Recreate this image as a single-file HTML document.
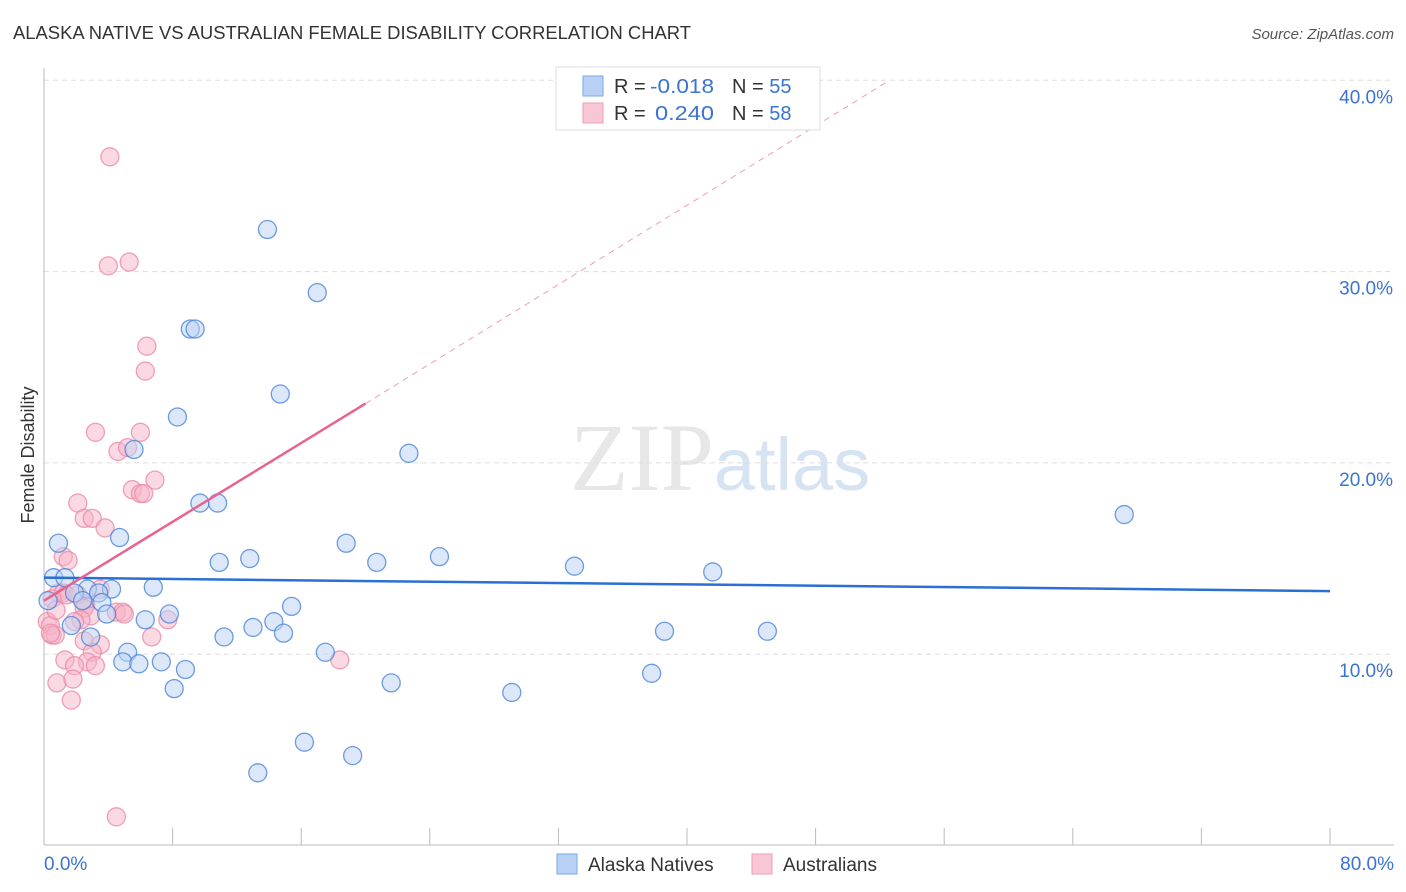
<!DOCTYPE html>
<html><head><meta charset="utf-8">
<style>
body{margin:0;background:#fff;font-family:"Liberation Sans",sans-serif;}
svg{display:block}
</style></head>
<body>
<svg id="chart" width="1406" height="892" xmlns="http://www.w3.org/2000/svg">
<text x="13" y="39" font-size="18" fill="#333" textLength="678" lengthAdjust="spacingAndGlyphs">ALASKA NATIVE VS AUSTRALIAN FEMALE DISABILITY CORRELATION CHART</text>
<text x="1394" y="39" font-size="15" fill="#555" font-style="italic" text-anchor="end">Source: ZipAtlas.com</text>
<text x="720" y="490" font-size="96" text-anchor="middle" font-family="Liberation Serif" fill="#ddd" opacity="0.7">ZIP<tspan fill="#c5d8ee" font-family="Liberation Sans" font-size="74">atlas</tspan></text>
<g id="grid"></g>
<g id="axes"></g>
<g id="marks"></g>
<text transform="translate(34,455) rotate(-90)" font-size="18" fill="#333" text-anchor="middle">Female Disability</text>
<g>
<rect x="556" y="67" width="264" height="63" fill="#fff" stroke="#ddd"/>
<rect x="583" y="76" width="20" height="20" fill="#b9d1f5" stroke="#7aa6e6"/>
<rect x="583" y="103" width="20" height="20" fill="#f9c6d5" stroke="#ee9db5"/>
<text x="614" y="93" font-size="20" fill="#333">R = <tspan fill="#3a74d0" x="650" textLength="64" lengthAdjust="spacingAndGlyphs">-0.018</tspan><tspan x="732">N = </tspan><tspan fill="#3a74d0">55</tspan></text>
<text x="614" y="120" font-size="20" fill="#333">R = <tspan fill="#3a74d0" x="655" textLength="59" lengthAdjust="spacingAndGlyphs">0.240</tspan><tspan x="732">N = </tspan><tspan fill="#3a74d0">58</tspan></text>
</g>
<g>
<rect x="557" y="854" width="20" height="20" fill="#b9d1f5" stroke="#7aa6e6"/>
<text x="588" y="871" font-size="19" fill="#333">Alaska Natives</text>
<rect x="752" y="854" width="20" height="20" fill="#f9c6d5" stroke="#ee9db5"/>
<text x="783" y="871" font-size="19" fill="#333">Australians</text>
</g>
</svg>
<script>
const xTicks=[0,8,16,24,32,40,48,56,64,72,80];
const yTicks=[10,20,30,40];
const yTickLabels=["10.0%","20.0%","30.0%","40.0%"];
const blueX=[13.9,17.0,9.1,9.4,14.7,8.3,5.6,22.7,9.7,10.8,67.2,0.9,4.7,18.8,10.9,12.8,20.7,24.6,33.0,41.6,0.6,1.3,6.8,2.7,4.2,1.9,3.4,0.25,2.4,3.6,15.4,3.9,7.8,6.3,14.3,1.7,13.0,14.9,11.2,38.6,45.0,2.9,5.2,17.5,4.9,5.9,7.3,8.8,37.8,21.6,8.1,29.1,16.2,19.2,13.3];
const blueY=[32.2,28.9,27.0,27.0,23.6,22.4,20.7,20.5,17.9,17.9,17.3,15.8,16.1,15.8,14.8,15.0,14.8,15.1,14.6,14.3,14.0,14.0,13.5,13.4,13.4,13.2,13.2,12.8,12.8,12.7,12.5,12.1,12.1,11.8,11.7,11.5,11.4,11.1,10.9,11.2,11.2,10.9,10.1,10.1,9.6,9.5,9.6,9.2,9.0,8.5,8.2,8.0,5.4,4.7,3.8];
const pinkX=[4.1,4.0,5.3,6.4,6.3,3.2,6.0,4.6,5.2,6.9,5.5,6.0,6.2,2.1,2.5,3.0,3.8,1.2,1.5,0.9,1.2,1.4,2.1,3.5,0.5,2.6,2.5,4.5,4.9,2.9,7.7,2.3,1.9,0.2,0.4,0.5,0.7,0.4,6.7,2.5,3.5,3.0,1.3,2.7,1.9,3.2,18.4,0.8,1.8,1.7,4.5,0.75,5.0];
const pinkY=[36.0,30.3,30.5,26.1,24.8,21.6,21.6,20.6,20.8,19.1,18.6,18.4,18.4,17.9,17.1,17.1,16.6,15.1,14.9,13.2,13.2,13.1,13.1,13.4,12.9,12.6,12.4,12.2,12.2,12.0,11.8,11.8,11.7,11.7,11.5,11.0,11.0,11.1,10.9,10.7,10.5,10.1,9.7,9.6,9.4,9.4,9.7,8.5,8.7,7.6,1.5,12.3,12.1];
const blueTrend=[[0,14.0],[80,13.3]];
const pinkTrend=[[0,12.8],[20,23.1]];
const pinkDash=[[20,23.1],[52.6,40]];
const NS="http://www.w3.org/2000/svg";
const X=v=>44+v*(1286/80);
const Y=v=>845.5-v*19.13;
function mk(tag,attrs,parent){const e=document.createElementNS(NS,tag);for(const k in attrs)e.setAttribute(k,attrs[k]);document.getElementById(parent).appendChild(e);return e;}
yTicks.forEach((t,i)=>{
 const l=mk('line',{x1:44,x2:1394,y1:Y(t),y2:Y(t),stroke:'#ddd','stroke-dasharray':'5,4'},'grid');
 
 
 const tx=mk('text',{x:1393,y:Y(t)+23,'font-size':19,fill:'#3a74d0','text-anchor':'end'},'axes');
 tx.textContent=yTickLabels[i];
 
 
});
let ax=mk('line',{x1:44,x2:44,y1:68,y2:845,stroke:'#bbb'},'axes');


ax=mk('line',{x1:44,x2:1394,y1:845,y2:845,stroke:'#bbb'},'axes');


xTicks.forEach(t=>{
 const l=mk('line',{x1:X(t),x2:X(t),y1:828,y2:845,stroke:'#bbb'},'axes');
 
 
});
let tl=mk('text',{x:44,y:870,'font-size':19,fill:'#3a74d0'},'axes');tl.textContent='0.0%';


tl=mk('text',{x:1394,y:870,'font-size':19,fill:'#3a74d0','text-anchor':'end'},'axes');tl.textContent='80.0%';


function dots(xs,ys,fill,stroke,name){xs.forEach((x,i)=>{const c=mk('circle',{cx:X(x),cy:Y(ys[i]),r:9,fill:fill,'fill-opacity':0.5,stroke:stroke,'stroke-opacity':0.8,'stroke-width':1.3},'marks');
 
 });}
dots(pinkX,pinkY,'#f6b3c8','#ec8aa8','australians-point');
dots(blueX,blueY,'#b9d1f5','#4a85d8','alaska-natives-point');
let ln=mk('line',{x1:X(blueTrend[0][0]),y1:Y(blueTrend[0][1]),x2:X(blueTrend[1][0]),y2:Y(blueTrend[1][1]),stroke:'#2a6fd3','stroke-width':2.5},'marks');


ln=mk('line',{x1:X(pinkTrend[0][0]),y1:Y(pinkTrend[0][1]),x2:X(pinkTrend[1][0]),y2:Y(pinkTrend[1][1]),stroke:'#e8638e','stroke-width':2.5},'marks');


ln=mk('line',{x1:X(pinkDash[0][0]),y1:Y(pinkDash[0][1]),x2:X(pinkDash[1][0]),y2:Y(pinkDash[1][1]),stroke:'#eba0b6','stroke-width':1,'stroke-dasharray':'6,5'},'marks');


</script>
</body></html>
